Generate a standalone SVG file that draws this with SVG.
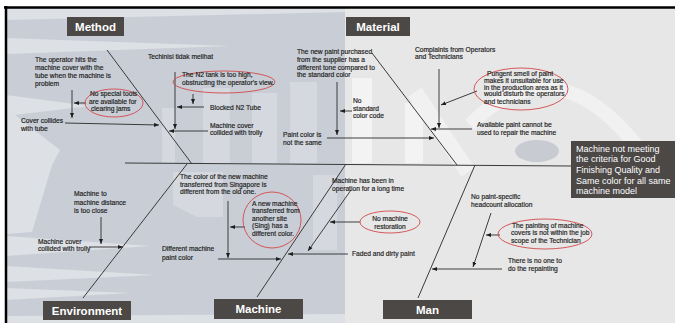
<svg xmlns="http://www.w3.org/2000/svg" width="675" height="323" viewBox="0 0 675 323">
<style>
.t{font-family:"Liberation Sans",Arial,sans-serif;font-size:6.7px;fill:#1e1e1e;stroke:#1e1e1e;stroke-width:0.18px}
.lab{font-family:"Liberation Sans",Arial,sans-serif;font-size:11.5px;font-weight:bold;fill:#fff;text-anchor:middle}
.eff{font-family:"Liberation Sans",Arial,sans-serif;font-size:9px;fill:#fff}
.box{fill:#4b4846}
.ln{stroke:#2a2a2a;stroke-width:0.9;fill:none}
.ar{stroke:#2a2a2a;stroke-width:0.9;fill:none;marker-end:url(#ah)}
.bone{stroke:#3a3a3a;stroke-width:1;fill:none}
.ov{fill:none;stroke:#d2474a;stroke-width:0.9}
.lt{fill:#dde0e5}
.lb{fill:#d5d9df}
.wh{fill:#f3f3f3}
</style>
<defs>
<marker id="ah" markerUnits="userSpaceOnUse" markerWidth="5" markerHeight="4" refX="5" refY="2" orient="auto">
<path d="M0,0 L5,2 L0,4 Z" fill="#1e1e1e"/>
</marker>
</defs>

<g id="background">
<rect width="675" height="323" fill="#fff"/>
<rect x="6" y="8" width="669" height="315" fill="#e7e7e7"/>
<rect x="6" y="8" width="339" height="315" fill="#c9ced6"/>
<polygon class="lt" points="6,9 345,9 345,12 6,20"/>
<polygon class="lt" points="6,38 230,46 6,54"/>
<polygon class="lt" points="6,95 90,106 6,116"/>
<polygon class="lt" points="6,108 60,150 52,165 32,232 6,234"/>
<polygon class="lt" points="6,236 150,246 6,256"/>
<polygon class="lt" points="6,266 155,275 6,282"/>
<polygon class="lt" points="6,288 130,293 6,300"/>
<polygon class="lt" points="6,316 345,314 345,323 6,323"/>
<rect class="lb" x="162" y="108" width="13" height="55"/>
<rect class="lb" x="203" y="88" width="27" height="75"/>
<rect class="lb" x="252" y="93" width="25" height="70"/>
<rect class="lb" x="290" y="82" width="27" height="81"/>
<polygon class="lb" points="173,172 223,172 223,217 197,217 173,205"/>
<rect class="lb" x="313" y="175" width="24" height="75"/>
<rect class="wh" x="352" y="78" width="20" height="85"/>
<rect class="wh" x="405" y="103" width="18" height="60"/>
<path d="M415 92 L468 172" stroke="#f1f1f1" stroke-width="16" fill="none"/>
<path d="M470 125 Q555 40 640 150" stroke="#f1f1f1" stroke-width="14" fill="none"/>
<ellipse cx="537" cy="151" rx="22" ry="11" fill="#c8ccd2"/>
<line x1="4" y1="7.5" x2="675" y2="7.5" stroke="#000" stroke-width="2.5"/>
<line x1="6" y1="6" x2="6" y2="323" stroke="#000" stroke-width="2.5"/>
</g>

<g id="connectors">
<line class="bone" x1="125" y1="163" x2="571" y2="166"/>
<line class="bone" x1="107" y1="50" x2="192" y2="164"/>
<line class="bone" x1="372" y1="53" x2="457" y2="165"/>
<line class="bone" x1="83" y1="298" x2="187" y2="164"/>
<line class="bone" x1="257" y1="297" x2="346" y2="164"/>
<line class="bone" x1="418" y1="298" x2="475" y2="165"/>
<line class="ar" x1="72" y1="90" x2="72" y2="118"/>
<line class="ar" x1="86" y1="103" x2="74" y2="103"/>
<line class="ar" x1="65" y1="123" x2="159" y2="125"/>
<line class="ar" x1="175" y1="72" x2="175" y2="129"/>
<line class="ar" x1="193" y1="94" x2="193" y2="104"/>
<line class="ar" x1="204" y1="107" x2="177" y2="107"/>
<line class="ar" x1="208" y1="131" x2="169" y2="131"/>
<line class="ar" x1="337" y1="82" x2="337" y2="135"/>
<line class="ar" x1="352" y1="111" x2="340" y2="111"/>
<line class="ar" x1="327" y1="138" x2="434" y2="138"/>
<line class="ar" x1="439" y1="69" x2="439" y2="128"/>
<line class="ar" x1="477" y1="91" x2="441" y2="105"/>
<line class="ar" x1="472" y1="129" x2="431" y2="129"/>
<line class="ar" x1="101" y1="217" x2="101" y2="244"/>
<line class="ar" x1="89" y1="247" x2="123" y2="247"/>
<line class="ar" x1="228" y1="201" x2="228" y2="258"/>
<line class="ar" x1="245" y1="227" x2="230" y2="227"/>
<line class="ar" x1="218" y1="259" x2="281" y2="259"/>
<line class="ar" x1="351" y1="190" x2="308" y2="251"/>
<line class="ar" x1="360" y1="222" x2="330" y2="222"/>
<line class="ar" x1="348" y1="254" x2="288" y2="254"/>
<line class="ar" x1="491" y1="213" x2="473" y2="267"/>
<line class="ar" x1="500" y1="235" x2="486" y2="235"/>
<line class="ar" x1="502" y1="269" x2="432" y2="269"/>
</g>

<g id="effect">
<rect class="box" x="571" y="141" width="104" height="57"/>
<text class="eff" x="576" y="151.5">Machine not meeting</text>
<text class="eff" x="576" y="162.4">the criteria for Good</text>
<text class="eff" x="576" y="173.3">Finishing Quality and</text>
<text class="eff" x="576" y="184.2">Same color for all same</text>
<text class="eff" x="576" y="194.3">machine model</text>
</g>

<g id="method">
<rect class="box" x="67" y="17" width="57" height="19"/>
<text class="lab" x="95.5" y="30.6">Method</text>
<text class="t" x="35" y="62.3">The operator hits the</text>
<text class="t" x="35" y="70.3">machine cover with the</text>
<text class="t" x="35" y="78.3">tube when the machine is</text>
<text class="t" x="35" y="86.3">problem</text>
<ellipse class="ov" cx="114" cy="103" rx="29" ry="14"/>
<text class="t" x="90" y="96.3">No special tools</text>
<text class="t" x="89" y="103.8">are available for</text>
<text class="t" x="91" y="111.3">clearing jams</text>
<text class="t" x="21" y="123">Cover collides</text>
<text class="t" x="21" y="130.6">with tube</text>
<text class="t" x="148" y="59.3">Techinisi tidak melihat</text>
<ellipse class="ov" cx="224" cy="82" rx="51" ry="11"/>
<text class="t" x="182" y="77.3">The N2 tank is too high,</text>
<text class="t" x="182" y="85.2">obstructing the operator's view.</text>
<text class="t" x="210" y="109.5">Blocked N2 Tube</text>
<text class="t" x="210" y="127.5">Machine cover</text>
<text class="t" x="210" y="135.1">collided with trolly</text>
</g>

<g id="material">
<rect class="box" x="346" y="17" width="64" height="19"/>
<text class="lab" x="378" y="30.6">Material</text>
<text class="t" x="297" y="54.1">The new paint purchased</text>
<text class="t" x="297" y="61.7">from the supplier has a</text>
<text class="t" x="297" y="69.5">different tone compared to</text>
<text class="t" x="297" y="77.1">the standard color</text>
<text class="t" x="353" y="103.3">No</text>
<text class="t" x="353" y="110.5">standard</text>
<text class="t" x="353" y="117.9">color code</text>
<text class="t" x="283" y="137.3">Paint color is</text>
<text class="t" x="283" y="144.9">not the same</text>
<text class="t" x="415" y="52.3">Complaints from Operators</text>
<text class="t" x="415" y="59.3">and Technicians</text>
<ellipse class="ov" cx="521" cy="89" rx="47" ry="21"/>
<text class="t" x="487" y="75.6">Pungent smell of paint</text>
<text class="t" x="484" y="82.8">makes it unsuitable for use</text>
<text class="t" x="484" y="89.5">in the production area as it</text>
<text class="t" x="484" y="96.3">would disturb the operators</text>
<text class="t" x="484" y="103.6">and technicians</text>
<text class="t" x="477" y="127.3">Available paint cannot be</text>
<text class="t" x="477" y="134.5">used to repair the machine</text>
</g>

<g id="environment">
<rect class="box" x="43" y="301" width="88" height="19"/>
<text class="lab" x="87" y="314.6">Environment</text>
<text class="t" x="74" y="195.9">Machine to</text>
<text class="t" x="74" y="204.9">machine distance</text>
<text class="t" x="74" y="213.2">is too close</text>
<text class="t" x="38" y="243.7">Machine cover</text>
<text class="t" x="38" y="251.2">collided with trolly</text>
</g>

<g id="machine">
<rect class="box" x="214" y="299" width="89" height="20"/>
<text class="lab" x="258.5" y="313.1">Machine</text>
<text class="t" x="180" y="179.3">The color of the new machine</text>
<text class="t" x="180" y="186.8">transferred from Singapore is</text>
<text class="t" x="180" y="194.3">different from the old one.</text>
<ellipse class="ov" cx="272" cy="220" rx="29" ry="28"/>
<text class="t" x="252" y="205.5">A new machine</text>
<text class="t" x="252" y="213.3">transferred from</text>
<text class="t" x="252" y="220.8">another site</text>
<text class="t" x="252" y="228.3">(Sing) has a</text>
<text class="t" x="252" y="235.5">different color.</text>
<text class="t" x="162" y="251.3">Different machine</text>
<text class="t" x="162" y="259.8">paint color</text>
<text class="t" x="332" y="182.8">Machine has been in</text>
<text class="t" x="332" y="191.3">operation for a long time</text>
<ellipse class="ov" cx="390" cy="222" rx="30" ry="11"/>
<text class="t" x="390" y="221.3" text-anchor="middle">No machine</text>
<text class="t" x="390" y="229.3" text-anchor="middle">restoration</text>
<text class="t" x="352" y="256.3">Faded and dirty paint</text>
</g>

<g id="man">
<rect class="box" x="383" y="300" width="89" height="19"/>
<text class="lab" x="427.5" y="313.6">Man</text>
<text class="t" x="471" y="199.3">No paint-specific</text>
<text class="t" x="471" y="207.3">headcount allocation</text>
<ellipse class="ov" cx="545" cy="234" rx="47" ry="15"/>
<text class="t" x="512" y="228">The painting of machine</text>
<text class="t" x="511" y="235">covers is not within the job</text>
<text class="t" x="511" y="243">scope of the Technician</text>
<text class="t" x="508" y="263.3">There is no one to</text>
<text class="t" x="508" y="271.3">do the repainting</text>
</g>
</svg>
